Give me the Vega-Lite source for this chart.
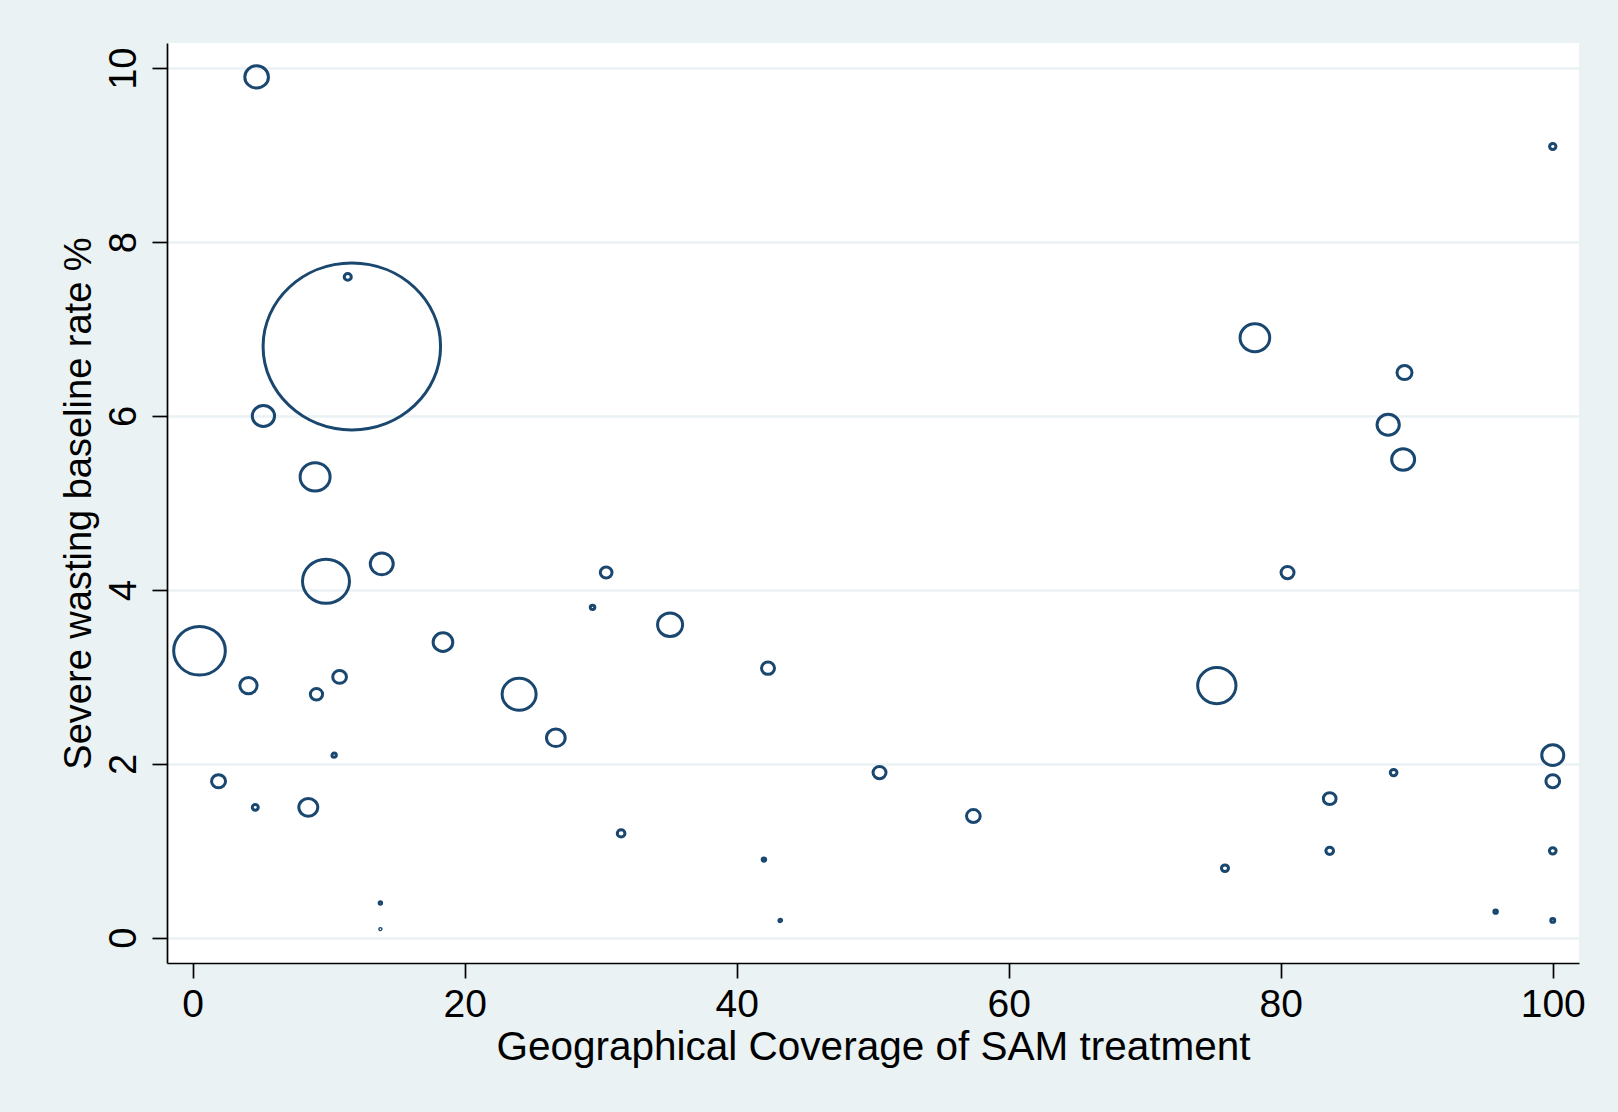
{
  "$schema": "https://vega.github.io/schema/vega-lite/v6.json",
  "autosize": "none",
  "width": 1412,
  "height": 920,
  "padding": {"left": 167, "top": 43, "right": 39, "bottom": 149},
  "background": "#EAF2F3",
  "config": {
    "view": {"stroke": null, "fill": "white"},
    "font": "Liberation Sans"
  },
  "data": {
    "values": [
      {"coverage": 4.7, "rate": 9.9, "weight": 5.6},
      {"coverage": 11.7, "rate": 6.8, "weight": 315.0},
      {"coverage": 11.4, "rate": 7.6, "weight": 0.5},
      {"coverage": 5.2, "rate": 6.0, "weight": 4.95},
      {"coverage": 9.0, "rate": 5.3, "weight": 9.0},
      {"coverage": 9.8, "rate": 4.1, "weight": 22.1},
      {"coverage": 13.9, "rate": 4.3, "weight": 5.28},
      {"coverage": 0.5, "rate": 3.3, "weight": 26.7},
      {"coverage": 18.4, "rate": 3.4, "weight": 3.88},
      {"coverage": 24.0, "rate": 2.8, "weight": 11.55},
      {"coverage": 4.1, "rate": 2.9, "weight": 3.0},
      {"coverage": 9.1, "rate": 2.8, "weight": 1.51},
      {"coverage": 10.8, "rate": 3.0, "weight": 1.88},
      {"coverage": 10.4, "rate": 2.1, "weight": 0.19},
      {"coverage": 1.9, "rate": 1.8, "weight": 1.96},
      {"coverage": 4.6, "rate": 1.5, "weight": 0.36},
      {"coverage": 8.5, "rate": 1.5, "weight": 3.6},
      {"coverage": 13.8, "rate": 0.4, "weight": 0.06},
      {"coverage": 13.8, "rate": 0.1, "weight": 0.02},
      {"coverage": 26.7, "rate": 2.3, "weight": 3.5},
      {"coverage": 30.4, "rate": 4.2, "weight": 1.37},
      {"coverage": 29.4, "rate": 3.8, "weight": 0.21},
      {"coverage": 35.1, "rate": 3.6, "weight": 6.25},
      {"coverage": 42.3, "rate": 3.1, "weight": 1.69},
      {"coverage": 31.5, "rate": 1.2, "weight": 0.59},
      {"coverage": 42.0, "rate": 0.9, "weight": 0.12},
      {"coverage": 43.2, "rate": 0.2, "weight": 0.07},
      {"coverage": 50.5, "rate": 1.9, "weight": 1.69},
      {"coverage": 57.4, "rate": 1.4, "weight": 1.88},
      {"coverage": 75.3, "rate": 2.9, "weight": 14.7},
      {"coverage": 75.9, "rate": 0.8, "weight": 0.5},
      {"coverage": 78.1, "rate": 6.9, "weight": 8.8},
      {"coverage": 80.5, "rate": 4.2, "weight": 1.69},
      {"coverage": 83.6, "rate": 1.6, "weight": 1.61},
      {"coverage": 83.6, "rate": 1.0, "weight": 0.59},
      {"coverage": 88.3, "rate": 1.9, "weight": 0.45},
      {"coverage": 89.1, "rate": 6.5, "weight": 2.25},
      {"coverage": 87.9, "rate": 5.9, "weight": 4.95},
      {"coverage": 89.0, "rate": 5.5, "weight": 5.28},
      {"coverage": 100, "rate": 9.1, "weight": 0.4},
      {"coverage": 100, "rate": 2.1, "weight": 4.84},
      {"coverage": 100, "rate": 1.8, "weight": 1.88},
      {"coverage": 100, "rate": 1.0, "weight": 0.45},
      {"coverage": 95.8, "rate": 0.3, "weight": 0.12},
      {"coverage": 100, "rate": 0.2, "weight": 0.16}
    ]
  },
  "mark": {
    "type": "point",
    "filled": false,
    "shape": "M-1,0A1,0.94,0,1,1,1,0A1,0.94,0,1,1,-1,0Z",
    "stroke": "#1A476F",
    "strokeWidth": 3.0,
    "opacity": 1
  },
  "encoding": {
    "x": {
      "field": "coverage",
      "type": "quantitative",
      "scale": {"domain": [-1.89, 101.93], "nice": false, "zero": false},
      "axis": {
        "title": "Geographical Coverage of SAM treatment",
        "values": [0, 20, 40, 60, 80, 100],
        "grid": false,
        "domainColor": "black",
        "domainWidth": 1.7,
        "tickColor": "black",
        "tickWidth": 1.7,
        "tickSize": 15,
        "labelFontSize": 39,
        "labelColor": "black",
        "labelPadding": 7,
        "labelFlush": false,
        "titleFontSize": 40.5,
        "titleFontWeight": "normal",
        "titleColor": "black",
        "titleBaseline": "alphabetic",
        "titleY": 96
      }
    },
    "y": {
      "field": "rate",
      "type": "quantitative",
      "scale": {"domain": [-0.29, 10.29], "nice": false, "zero": false},
      "axis": {
        "title": "Severe wasting baseline rate %",
        "values": [0, 2, 4, 6, 8, 10],
        "grid": true,
        "gridColor": "#EAF2F3",
        "gridWidth": 2.5,
        "domainColor": "black",
        "domainWidth": 1.7,
        "tickColor": "black",
        "tickWidth": 1.7,
        "tickSize": 15,
        "labelFontSize": 38,
        "labelColor": "black",
        "labelAngle": -90,
        "labelAlign": "center",
        "labelBaseline": "alphabetic",
        "labelPadding": 17,
        "labelFlush": false,
        "titleFontSize": 38,
        "titleFontWeight": "normal",
        "titleColor": "black",
        "titleBaseline": "alphabetic",
        "titleX": -77
      }
    },
    "size": {
      "field": "weight",
      "type": "quantitative",
      "scale": {"type": "linear", "zero": true, "domain": [0, 320], "range": [0, 32000]},
      "legend": null
    }
  }
}
